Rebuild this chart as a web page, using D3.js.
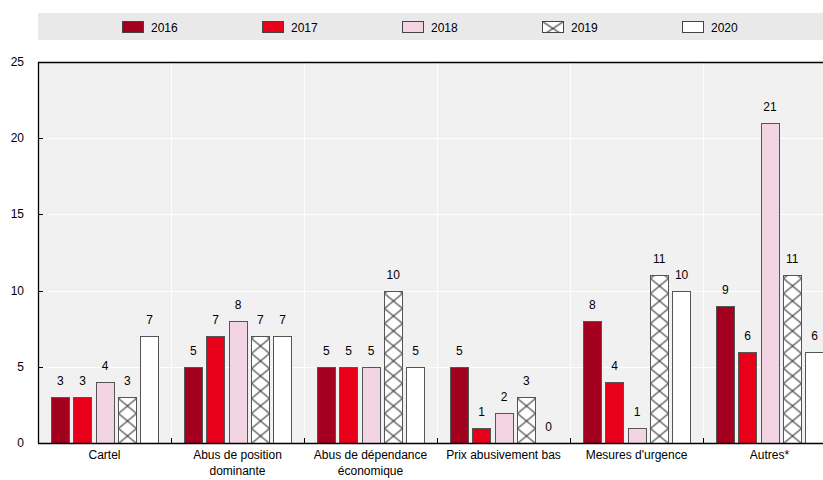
<!DOCTYPE html>
<html>
<head>
<meta charset="utf-8">
<script src="https://cdn.jsdelivr.net/npm/d3@7"></script>
<style>
  body { margin: 0; background: #fff; }
  svg { display: block; font-family: Arial, "Liberation Sans", sans-serif; }
</style>
</head>
<body>
<div id="graphic"></div>
<script>
var categories = [["Cartel"], ["Abus de position", "dominante"], ["Abus de dépendance", "économique"], ["Prix abusivement bas"], ["Mesures d'urgence"], ["Autres*"]];
var years = ["2016", "2017", "2018", "2019", "2020"];
var values = [
  [3, 3, 4, 3, 7],
  [5, 7, 8, 7, 7],
  [5, 5, 5, 10, 5],
  [5, 1, 2, 3, 0],
  [8, 4, 1, 11, 10],
  [9, 6, 21, 11, 6]
];
var yTicks = [0, 5, 10, 15, 20, 25];
var colors = ["#a3001f", "#e8001b", "#f2d4e2", "url(#hatch)", "#ffffff"];
var legendColors = ["#a3001f", "#e8001b", "#f2d4e2", "url(#hatchLeg)", "#ffffff"];

var chart = {};

chart.create = function() {
  var width = 823, height = 480;
  var pLeft = 38, pTop = 62, pBottom = 443, pRight = 836;

  var svg = d3.select("#graphic").append("svg").attr("width", width).attr("height", height);

  var x = d3.scaleBand().domain(d3.range(categories.length)).range([pLeft, pLeft + 133 * 6]);
  var xi = d3.scaleBand().domain(years).range([13, 120]).paddingInner(0.2);
  var y = d3.scaleLinear().domain([0, 25]).range([pBottom, pTop]);
  var bw = Math.round(xi.bandwidth());
  var hx = Math.round(xi("2019")) + 0.5;

  var defs = svg.append("defs");
  var pat = defs.append("pattern").attr("id", "hatch").attr("patternUnits", "userSpaceOnUse")
    .attr("x", hx).attr("y", Math.round(y(0)) + 0.5).attr("width", bw).attr("height", 15);
  pat.append("rect").attr("width", bw).attr("height", 15).attr("fill", "#fff");
  pat.append("path").attr("d", "M0,0L" + bw + ",15M" + bw + ",0L0,15").attr("stroke", "#3a3a3a").attr("stroke-width", 1.1);

  var patL = defs.append("pattern").attr("id", "hatchLeg").attr("patternUnits", "userSpaceOnUse")
    .attr("x", 0.5).attr("y", 21.5).attr("width", 21).attr("height", 14);
  patL.append("rect").attr("width", 21).attr("height", 14).attr("fill", "#fff");
  patL.append("path").attr("d", "M0,0L21,14M21,0L0,14").attr("stroke", "#3a3a3a").attr("stroke-width", 1.1);

  // legend band
  svg.append("rect").attr("x", 38).attr("y", 13).attr("width", 785).attr("height", 27).attr("fill", "#e9e9e9");
  var lg = svg.selectAll("g.leg").data(years).enter().append("g").attr("class", "leg")
    .attr("transform", function(d, i) { return "translate(" + (122 + i * 140) + ",0)"; });
  lg.append("rect").attr("x", 0.5).attr("y", 21.5).attr("width", 21).attr("height", 11)
    .attr("fill", function(d, i) { return legendColors[i]; }).attr("stroke", "#444").attr("stroke-width", 1);
  lg.append("text").attr("x", 29).attr("y", 31.5).attr("font-size", 12).text(function(d) { return d; });

  // plot background + grid
  svg.append("rect").attr("x", pLeft).attr("y", pTop).attr("width", pRight - pLeft).attr("height", pBottom - pTop).attr("fill", "#f1f1f1");

  svg.selectAll("line.hg").data(yTicks.slice(1)).enter().append("line")
    .attr("x1", pLeft).attr("x2", pRight).attr("y1", function(d) { return Math.round(y(d)) + 0.5; }).attr("y2", function(d) { return Math.round(y(d)) + 0.5; })
    .attr("stroke", "#fff").attr("stroke-width", 1);
  svg.selectAll("line.vg").data(d3.range(1, categories.length)).enter().append("line")
    .attr("x1", function(d) { return x(d) + 0.5; }).attr("x2", function(d) { return x(d) + 0.5; })
    .attr("y1", pTop).attr("y2", pBottom).attr("stroke", "#fff").attr("stroke-width", 1);

  // bars
  var groups = svg.selectAll("g.cat").data(values).enter().append("g")
    .attr("transform", function(d, i) { return "translate(" + x(i) + ",0)"; });
  groups.selectAll("rect").data(function(d) { return d; }).enter().append("rect")
    .attr("x", function(d, i) { return Math.round(xi(years[i])) + 0.5; })
    .attr("y", function(d) { return Math.round(y(d)) + 0.5; })
    .attr("width", bw)
    .attr("height", function(d) { return Math.max(0, Math.round(y(0)) - Math.round(y(d))); })
    .attr("fill", function(d, i) { return colors[i]; })
    .attr("stroke", function(d) { return d > 0 ? "#555" : "none"; })
    .attr("stroke-width", 1);
  groups.selectAll("text").data(function(d) { return d; }).enter().append("text")
    .attr("x", function(d, i) { return xi(years[i]) + xi.bandwidth() / 2 + 0.5; })
    .attr("y", function(d) { return y(d) - 12; })
    .attr("text-anchor", "middle").attr("font-size", 12).text(function(d) { return d; });

  // axes
  svg.append("line").attr("x1", pLeft).attr("x2", pRight).attr("y1", pTop + 0.5).attr("y2", pTop + 0.5).attr("stroke", "#000").attr("stroke-width", 1.3);
  svg.append("line").attr("x1", pLeft + 0.5).attr("x2", pLeft + 0.5).attr("y1", pTop).attr("y2", pBottom).attr("stroke", "#000").attr("stroke-width", 1.3);
  svg.append("line").attr("x1", pLeft).attr("x2", pRight).attr("y1", pBottom + 0.5).attr("y2", pBottom + 0.5).attr("stroke", "#000").attr("stroke-width", 1.3);

  svg.selectAll("line.yt").data(yTicks).enter().append("line")
    .attr("x1", pLeft).attr("x2", pLeft + 5).attr("y1", function(d) { return Math.round(y(d)) + 0.5; }).attr("y2", function(d) { return Math.round(y(d)) + 0.5; })
    .attr("stroke", "#000");
  svg.selectAll("text.yl").data(yTicks).enter().append("text")
    .attr("x", 24).attr("y", function(d) { return y(d) + 4; })
    .attr("text-anchor", "end").attr("font-size", 12).text(function(d) { return d; });

  svg.selectAll("line.xt").data(d3.range(1, categories.length)).enter().append("line")
    .attr("x1", function(d) { return x(d) + 0.5; }).attr("x2", function(d) { return x(d) + 0.5; })
    .attr("y1", pBottom).attr("y2", pBottom - 5).attr("stroke", "#000");

  var xl = svg.selectAll("text.xl").data(categories).enter().append("text")
    .attr("text-anchor", "middle").attr("font-size", 12)
    .attr("transform", function(d, i) { return "translate(" + (x(i) + x.bandwidth() / 2) + ",0)"; });
  xl.selectAll("tspan").data(function(d) { return d; }).enter().append("tspan")
    .attr("x", 0).attr("y", function(d, i) { return 459 + i * 16; }).text(function(d) { return d; });
};

chart.create();
</script>
</body>
</html>
